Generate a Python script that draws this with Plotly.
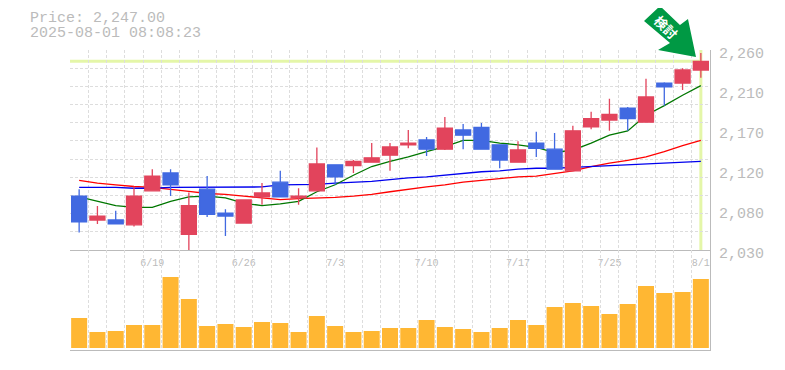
import plotly.graph_objects as go

dates = ["6/13","6/16","6/17","6/18","6/19","6/20","6/23","6/24","6/25","6/26","6/27","6/30",
         "7/1","7/2","7/3","7/4","7/7","7/8","7/9","7/10","7/11","7/14","7/15","7/16","7/17",
         "7/18","7/22","7/23","7/24","7/25","7/28","7/29","7/30","7/31","8/1"]
opens = [2092,2064.5,2064.5,2059,2098,2118.6,2048,2100,2072.5,2061,2091,2108,
         2090,2098,2128,2127,2131,2139,2151,2156.5,2146,2168,2171,2151,2131,
         2153,2146,2121,2171.5,2179.5,2193,2177,2222,2222,2237]
highs = [2100,2080.6,2075,2103,2123,2123,2096,2115,2077,2087.5,2107,2121,
         2101,2148,2128,2133.5,2153,2153,2168,2160,2183,2175,2176,2151,2155,
         2166,2164.5,2173,2189,2204,2194.5,2227,2223,2239,2256.5]
lows = [2050,2060,2060,2057,2098,2092,2030,2068,2046,2061,2082,2091,
        2082,2098,2105,2118.5,2131,2121,2147,2138,2145,2146,2146,2124,2131,
        2137,2123,2121,2169,2167,2167,2177,2196,2214,2228]
closes = [2062.5,2069,2060,2092,2115,2105,2081,2071,2069,2087.5,2095.6,2091,
          2092,2129,2114,2132,2136,2148.5,2153,2146,2170,2162,2146,2133.5,2145,
          2147,2123,2167,2181,2186,2181,2206,2217.5,2237,2247]
ma_short = [2091,2086,2081,2079,2079,2086,2091,2092,2090,2084,2081,2083,
            2086,2097,2105,2116,2126,2132,2137,2143,2149,2156,2156,2153,2151,
            2148,2142,2145,2153,2162,2167,2185,2196,2208,2219]
ma_mid = [2102,2102,2102,2101,2101,2102,2102,2102,2102,2102.5,2102.5,2105,
          2105.5,2105.5,2107,2108,2109,2111,2113,2114,2116,2118,2120,2121,2123,
          2124,2124,2125,2126,2127,2128,2129,2130,2131,2132]
ma_long = [2110,2107,2105,2103,2102,2100,2097.5,2095,2094,2092,2090,2088,
           2089,2089.5,2090.5,2092,2094,2097,2100,2102.5,2105,2108,2110,2112,2114,
           2115,2118,2121,2126,2130,2133,2137,2143,2150,2156]
volumes = [30000,16000,17000,23000,23000,71000,49000,22000,24000,21000,26000,25000,
           16000,32000,22000,16000,17000,20000,20000,28000,21000,19000,16000,20000,28000,
           23000,41000,45000,42000,34000,44000,62000,55000,56000,69000]
date_ticks = ["6/19","6/26","7/3","7/10","7/17","7/25","8/1"]
price_ticks = [2030,2076,2122,2168,2214,2260]
price_labels = ["2,030","2,080","2,120","2,170","2,210","2,260"]
price_text = "Price: 2,247.00"
time_text = "2025-08-01 08:08:23"
badge_text = "<b>検討</b>"

MONO = "Liberation Mono"
GRAY = "#bbbbbb"
GRID = "#dddddd"
xs = list(range(len(dates)))
P_MIN, P_MAX = price_ticks[0], price_ticks[-1]
grid_x = [i - 0.5 for i in range(len(dates) + 1)]
grid_y = [P_MIN + (P_MAX - P_MIN) * i / 11 for i in range(12)]

fig = go.Figure()
for vals, col in [(ma_long, "#ff0000"), (ma_mid, "#0000ee"), (ma_short, "#007700")]:
    fig.add_trace(go.Scatter(x=xs, y=vals, mode="lines", line=dict(color=col, width=1.3),
                             showlegend=False, hoverinfo="skip", xaxis="x", yaxis="y"))
fig.add_trace(go.Candlestick(
    x=xs, open=opens, high=highs, low=lows, close=closes, xaxis="x", yaxis="y3",
    increasing=dict(line=dict(color="#e2445c", width=1.3), fillcolor="#e2445c"),
    decreasing=dict(line=dict(color="#4169e1", width=1.3), fillcolor="#4169e1"),
    whiskerwidth=0, showlegend=False))
fig.add_trace(go.Bar(x=xs, y=volumes, marker=dict(color="#ffb733", line=dict(width=0)),
                     xaxis="x2", yaxis="y2", showlegend=False))

x_common = dict(range=[-0.5, len(dates) - 0.5], showgrid=False, zeroline=False,
                showline=True, linecolor=GRAY, linewidth=1, ticks="",
                rangeslider=dict(visible=False),
                minor=dict(tickmode="array", tickvals=grid_x, showgrid=True, griddash="3px,2px",
                           gridcolor=GRID, gridwidth=1, ticks=""))
fig.update_layout(
    width=785, height=370, autosize=False, paper_bgcolor="white", plot_bgcolor="white",
    margin=dict(l=62, r=83, t=42, b=28), bargap=0.125, boxgap=0.18, boxgroupgap=0, showlegend=False,
    font=dict(family=MONO, color=GRAY),
    xaxis=dict(**x_common, anchor="y", tickmode="array",
               tickvals=[dates.index(d) for d in date_ticks], ticktext=date_ticks,
               tickfont=dict(family=MONO, size=10, color=GRAY), ticklabelstandoff=3),
    xaxis2=dict(**x_common, anchor="y2", matches="x", showticklabels=False),
    yaxis=dict(domain=[1 / 3, 1], range=[P_MIN, P_MAX], side="right", anchor="x", showline=True,
               linecolor=GRAY, linewidth=1, ticks="", showgrid=False, zeroline=False,
               tickmode="array", tickvals=price_ticks, ticktext=price_labels, ticklabelshift=3,
               ticklabelstandoff=5, tickfont=dict(family=MONO, size=15, color=GRAY),
               minor=dict(tickmode="array", tickvals=grid_y, showgrid=True, griddash="3px,2px",
                          gridcolor=GRID, gridwidth=1, ticks="")),
    yaxis2=dict(domain=[0, 1 / 3], range=[-2000, 98000], side="right", anchor="x2", showline=True,
                linecolor=GRAY, linewidth=1, ticks="", showgrid=False, zeroline=False,
                showticklabels=False),
    yaxis3=dict(overlaying="y", range=[P_MIN, P_MAX], side="right", anchor="x", showgrid=False,
                zeroline=False, showticklabels=False, ticks="", showline=False),
    shapes=[
        dict(type="line", layer="below", xref="x", yref="y", x0=-0.5, x1=xs[-1],
             y0=closes[-1], y1=closes[-1], line=dict(color="#e4f6a8", width=3)),
        dict(type="line", layer="below", xref="x", yref="y", x0=xs[-1], x1=xs[-1],
             y0=P_MIN, y1=P_MAX, line=dict(color="#e4f6a8", width=3)),
        dict(type="path", xref="paper", yref="paper", layer="above", line=dict(width=0),
             fillcolor="#009944",
             path="M 0.9219 1.1467 L 0.8969 1.0967 L 0.9375 1.0233 L 0.9188 1.0 "
                  "L 0.9781 0.9767 L 0.9656 1.1033 L 0.9531 1.0833 Z"),
    ],
    annotations=[
        dict(text=price_text, xref="paper", yref="paper", x=-0.0656, y=1.1034, xanchor="left",
             yanchor="middle", showarrow=False, font=dict(family=MONO, size=15, color=GRAY)),
        dict(text=time_text, xref="paper", yref="paper", x=-0.0656, y=1.0534, xanchor="left",
             yanchor="middle", showarrow=False, font=dict(family=MONO, size=15, color=GRAY)),
        dict(text=badge_text, xref="paper", yref="paper", x=0.932, y=1.075, xanchor="center",
             yanchor="middle", textangle=45, showarrow=False,
             font=dict(family="Noto Sans CJK JP", size=13, color="white")),
    ],
)
fig.write_html("out.html")
